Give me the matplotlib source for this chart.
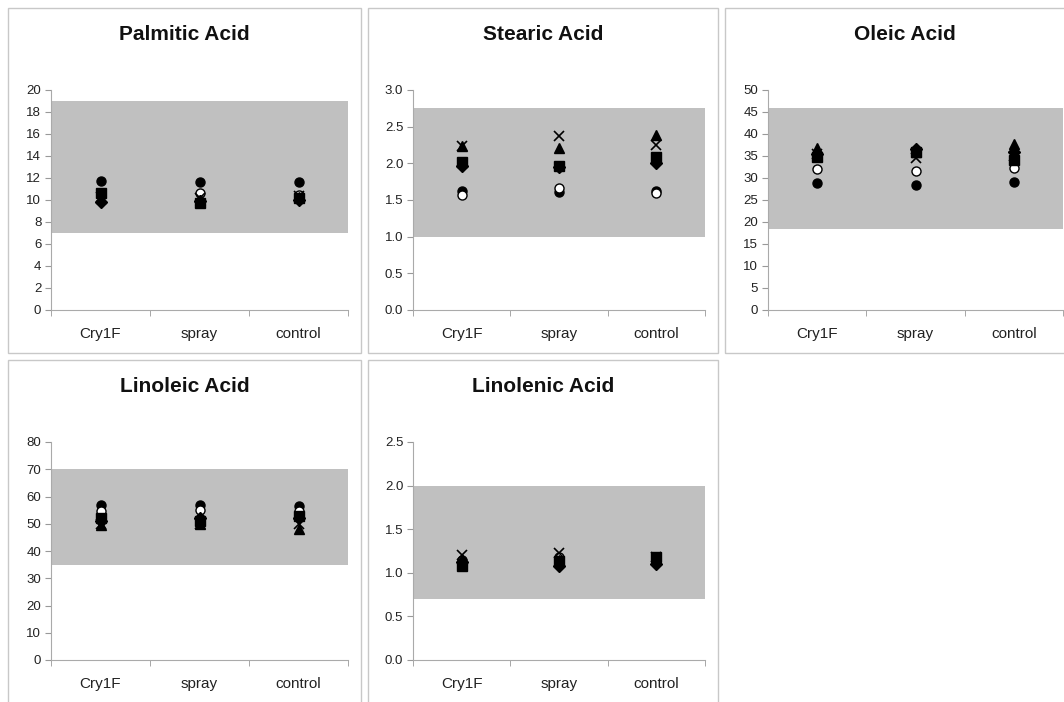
import matplotlib
import matplotlib.pyplot as plt
from matplotlib.patches import Rectangle

matplotlib.use('Agg')
plt.rcParams['font.family'] = ['Liberation Sans', 'DejaVu Sans']

groups = ["Cry1F", "spray", "control"]

# marker styles of the six series
series_markers = ["o", "o", "s", "^", "D", "x"]
series_filled = [True, False, True, True, True, True]

palmitic_vals = [
    [11.7, 11.6, 11.6],
    [10.5, 10.6, 10.5],
    [10.6, 9.7, 10.2],
    [10.2, 10.0, 10.3],
    [9.8, 9.9, 10.0],
    [10.3, 10.2, 10.4],
]
stearic_vals = [
    [1.62, 1.61, 1.62],
    [1.57, 1.66, 1.60],
    [2.02, 1.96, 2.08],
    [2.23, 2.21, 2.39],
    [1.97, 1.95, 2.00],
    [2.24, 2.37, 2.25],
]
oleic_vals = [
    [28.8, 28.5, 29.0],
    [32.0, 31.5, 32.3],
    [34.8, 35.8, 34.0],
    [36.8, 36.0, 37.8],
    [35.5, 36.5, 36.0],
    [35.5, 34.5, 35.0],
]
linoleic_vals = [
    [57.0, 57.0, 56.5],
    [54.5, 55.0, 54.5],
    [52.0, 51.0, 53.0],
    [49.5, 49.8, 48.0],
    [51.0, 52.0, 52.0],
    [50.0, 50.0, 50.0],
]
linolenic_vals = [
    [1.12, 1.10, 1.12],
    [1.15, 1.18, 1.15],
    [1.08, 1.13, 1.18],
    [1.16, 1.15, 1.16],
    [1.12, 1.08, 1.10],
    [1.20, 1.23, 1.18],
]

titles = ["Palmitic Acid", "Stearic Acid", "Oleic Acid", "Linoleic Acid", "Linolenic Acid"]
all_vals = [palmitic_vals, stearic_vals, oleic_vals, linoleic_vals, linolenic_vals]
ranges = [(7, 19), (1.0, 2.75), (18.5, 46), (35, 70), (0.7, 2.0)]
y_max = [20, 3.0, 50, 80, 2.5]
y_step = [2, 0.5, 5, 10, 0.5]
y_fmt = ["{:.0f}", "{:.1f}", "{:.0f}", "{:.0f}", "{:.1f}"]

W, H = 1064, 702
fig = plt.figure(figsize=(W / 100, H / 100), dpi=100)

# pixel geometry: panel frame (x0, y0, x1, y1), plot area (left, top, right, bottom)
frames = [(8, 8, 361, 353), (368, 8, 718, 353), (725, 8, 1070, 353),
          (8, 360, 361, 708), (368, 360, 718, 708)]
plots = [(51, 90, 348, 310), (413, 90, 705, 310), (768, 90, 1063, 310),
         (51, 442, 348, 660), (413, 442, 705, 660)]

for (x0, y0, x1, y1) in frames:
    fig.patches.append(Rectangle((x0 / W, 1 - y1 / H), (x1 - x0) / W, (y1 - y0) / H,
                                 transform=fig.transFigure, fill=False,
                                 edgecolor='#c8c8c8', linewidth=1.0))

for i in range(5):
    l, t, r, b = plots[i]
    ax = fig.add_axes([l / W, 1 - b / H, (r - l) / W, (b - t) / H])
    ax.set_xlim(0.5, 3.5)
    ax.set_ylim(0, y_max[i])
    lo, hi = ranges[i]
    ax.axhspan(lo, hi, color='#c0c0c0', zorder=0, lw=0)

    for s, vals in enumerate(all_vals[i]):
        m = series_markers[s]
        if m == "x":
            ax.plot([1, 2, 3], vals, linestyle='none', marker='x', color='black',
                    markersize=7, markeredgewidth=1.2, zorder=3)
        else:
            ms = 6 if m == "D" else 6.5
            ax.plot([1, 2, 3], vals, linestyle='none', marker=m,
                    markerfacecolor='black' if series_filled[s] else 'white',
                    markeredgecolor='black', markeredgewidth=1.0,
                    markersize=ms, zorder=3)

    n = int(round(y_max[i] / y_step[i]))
    yt = [k * y_step[i] for k in range(n + 1)]
    ax.set_yticks(yt)
    ax.set_yticklabels([y_fmt[i].format(v) for v in yt], fontsize=9.5, color='#222222')
    ax.set_xticks([1, 2, 3])
    ax.set_xticklabels(groups, fontsize=11, color='#222222')
    ax.set_xticks([0.5, 1.5, 2.5, 3.5], minor=True)
    ax.tick_params(axis='x', which='major', length=0, pad=12)
    ax.tick_params(axis='x', which='minor', length=4, color='#999999', direction='out')
    ax.tick_params(axis='y', length=4, color='#999999', direction='out', pad=3)
    for side in ['top', 'right']:
        ax.spines[side].set_visible(False)
    for side in ['left', 'bottom']:
        ax.spines[side].set_color('#aaaaaa')
        ax.spines[side].set_linewidth(0.8)
    ax.set_facecolor('none')

    fx0, fy0, fx1, fy1 = frames[i]
    cx = (fx0 + min(fx1, W)) / 2 if i != 2 else (fx0 + 1064 + 20) / 2
    fig.text(cx / W, 1 - (fy0 + 26) / H, titles[i], ha='center', va='center',
             fontsize=15, fontweight='bold', color='#111111')

fig.savefig('out.png', dpi=100)
